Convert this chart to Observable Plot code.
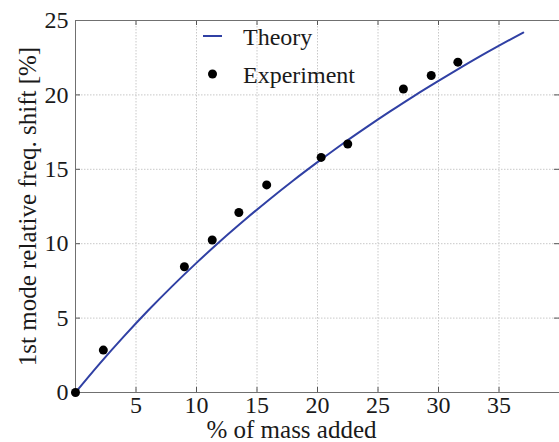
<!DOCTYPE html>
<html><head><meta charset="utf-8">
<script src="https://cdn.jsdelivr.net/npm/d3@7"></script>
<script src="https://cdn.jsdelivr.net/npm/@observablehq/plot@0.6"></script>
<style>
body{margin:0;background:#fff}
</style>
</head><body><div id="chart"></div>
<script>
// Theory curve
const theoryX = [0, 2, 4, 6, 8, 10, 12, 14, 16, 18, 20, 22, 24, 26, 28, 30, 32, 34, 36, 37];
const theoryY = [0, 1.94, 3.77, 5.51, 7.15, 8.71, 10.20, 11.61, 12.96, 14.25, 15.48, 16.67, 17.80, 18.89, 19.94, 20.94, 21.91, 22.85, 23.75, 24.19];
// Experiment points
const expX = [0, 2.3, 9.0, 11.3, 13.5, 15.8, 20.3, 22.5, 27.1, 29.4, 31.6];
const expY = [0, 2.85, 8.45, 10.25, 12.1, 13.95, 15.8, 16.7, 20.4, 21.3, 22.2];
// Axes
const xDomain = [0, 40];
const yDomain = [0, 25];
const xTicks = [5, 10, 15, 20, 25, 30, 35];
const yTicks = [0, 5, 10, 15, 20, 25];
const xGrid = [5, 10, 15, 20, 25, 30, 35];
const yGrid = [5, 10, 15, 20];
const xLabel = "% of mass added";
const yLabel = "1st mode relative freq. shift [%]";
const legendItems = [{label: "Theory", kind: "line"}, {label: "Experiment", kind: "dot"}];

const theory = theoryX.map((x, i) => ({x, y: theoryY[i]}));
const exp = expX.map((x, i) => ({x, y: expY[i]}));

const W = 559, H = 442, mt = 20, mr = 0, mb = 50, ml = 75;
const fw = W - ml - mr, fh = H - mt - mb, tk = 5;
const lineColor = "#3040a4";
const frameColor = "#707070";
const textColor = "#1a1a1a";
const fontFamily = "Liberation Serif";

const legendMark = () => {
  const g = d3.create("svg:g").attr("font-size", 24).attr("font-family", fontFamily)
    .attr("fill", textColor).attr("text-anchor", "start");
  legendItems.forEach((d, i) => {
    const cy = 36 + i * 38;
    if (d.kind === "line") {
      g.append("line").attr("x1", 203).attr("x2", 222).attr("y1", cy).attr("y2", cy)
        .attr("stroke", lineColor).attr("stroke-width", 2);
    } else {
      g.append("circle").attr("cx", 212.5).attr("cy", cy).attr("r", 4.5).attr("fill", "#000");
    }
    g.append("text").attr("x", 243).attr("y", cy + 9).text(d.label);
  });
  return g.node();
};

const chart = Plot.plot({
  width: W, height: H,
  marginTop: mt, marginRight: mr, marginBottom: mb, marginLeft: ml,
  style: {"font-family": fontFamily, "font-size": "24px", "background": "#fff", "color": textColor},
  x: {domain: xDomain},
  y: {domain: yDomain},
  marks: [
    Plot.ruleX(xGrid, {x: d => d, stroke: "#c8c8c8", strokeDasharray: "1.5,1.5"}),
    Plot.ruleY(yGrid, {y: d => d, stroke: "#c8c8c8", strokeDasharray: "1.5,1.5"}),
    Plot.ruleX(xTicks, {x: d => d, insetTop: fh - tk, stroke: "#555"}),
    Plot.ruleX(xTicks, {x: d => d, insetBottom: fh - tk, stroke: "#555"}),
    Plot.ruleY(yTicks, {y: d => d, insetRight: fw - tk, stroke: "#555"}),
    Plot.ruleY(yTicks, {y: d => d, insetLeft: fw - tk, stroke: "#555"}),
    Plot.ruleY(yDomain, {y: d => d, stroke: frameColor}),
    Plot.ruleX([xDomain[0]], {x: d => d, stroke: frameColor}),
    Plot.axisX({ticks: xTicks, tickSize: 0, tickPadding: 3, label: null, fontSize: 24, fontFamily}),
    Plot.axisY({ticks: yTicks, tickSize: 0, tickPadding: 7, label: null, fontSize: 24, fontFamily}),
    Plot.line(theory, {x: "x", y: "y", stroke: lineColor, strokeWidth: 2, curve: "monotone-x"}),
    Plot.dot(exp, {x: "x", y: "y", r: 4.5, fill: "#000", stroke: null}),
    Plot.text([xLabel], {frameAnchor: "bottom", textAnchor: "middle", lineAnchor: "middle", dx: -26, dy: 37.5, fontSize: 25, fontFamily, fill: textColor}),
    Plot.text([yLabel], {frameAnchor: "left", textAnchor: "middle", lineAnchor: "middle", rotate: -90, dx: -48, fontSize: 25, fontFamily, fill: textColor}),
    legendMark
  ]
});
document.getElementById("chart").appendChild(chart);
</script>
</body></html>
